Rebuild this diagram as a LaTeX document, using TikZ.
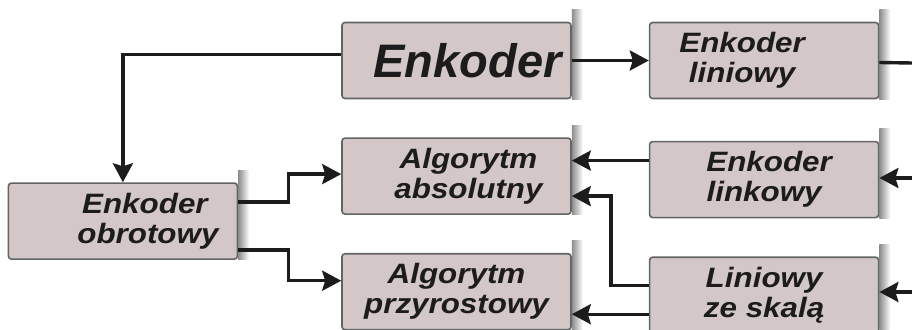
\documentclass[tikz,border=0pt]{standalone}
\usepackage{fontspec}
\setmainfont{Liberation Sans}
\newfontfamily\boxfont[FakeStretch=1.12]{Liberation Sans}
\usetikzlibrary{arrows.meta, positioning}

\definecolor{boxfill}{RGB}{212,199,199}
\definecolor{boxline}{RGB}{100,100,100}
\definecolor{ink}{RGB}{28,28,28}

\begin{document}
\begin{tikzpicture}[
    x=1pt, y=1pt,
    node distance=38pt and 77pt,
    unit/.style={rectangle, rounded corners=3pt, draw=boxline, line width=1.6pt, fill=boxfill,
        minimum width=229pt, minimum height=76pt, inner sep=0pt, align=center, text=ink,
        font=\boxfont\bfseries\itshape\fontsize{28}{30}\selectfont},
    title/.style={unit, font=\bfseries\itshape\fontsize{47}{50}\selectfont},
    backshade/.style={left color=black!45, right color=white, draw=none},
    arrow/.style={-{Stealth[length=19pt,width=20pt,inset=3pt]}, line width=3.4pt, draw=ink}
]
\useasboundingbox (0,0) rectangle (912,-329);

% Nodes
\node[title] (Enc_Main) at (456.5,-60.5) {\hspace*{22pt}Enkoder};
\node[unit, right=of Enc_Main] (Enc_Liniowy) {Enkoder\hspace*{44pt}\\ liniowy\hspace*{44pt}};
\node[unit, below=of Enc_Main] (Alg_Absolutny) {\hspace*{24pt}Algorytm\\ \hspace*{24pt}absolutny};
\node[unit, below=of Alg_Absolutny] (Alg_Przyrostowy) {Algorytm\\ przyrostowy};
\node[unit, right=of Alg_Absolutny, yshift=-3.5pt] (Enc_Linkowy) {\hspace*{10pt}Enkoder\\ linkowy};
\node[unit, below=of Enc_Linkowy] (Lin_Skala) {Liniowy\\ ze skalą};
\node[unit, left=103pt of Alg_Absolutny, yshift=-45pt] (Enc_Obrotowy) {\hspace*{44pt}Enkoder\\ \hspace*{50pt}obrotowy};

% free ends at the right border
\coordinate (Out_Top) at (912,-63);
\coordinate (In_Mid) at (912,-178);
\coordinate (In_Low) at (912,-292);

% Shadows
\foreach \n in {Enc_Main, Enc_Liniowy, Alg_Absolutny, Alg_Przyrostowy, Enc_Linkowy, Lin_Skala, Enc_Obrotowy}
    \shade[backshade] ([yshift=12pt]\n.north east) rectangle ([xshift=11pt]\n.south east);

% Edges
\draw[arrow] ([yshift=6pt]Enc_Main.west) -| (Enc_Obrotowy.north);
\draw[arrow] (Enc_Main) -- (Enc_Liniowy);
\draw[line width=3.4pt, draw=ink] ([yshift=-2pt]Enc_Liniowy.east) -- (Out_Top);
\draw[arrow] (In_Mid) -- (Enc_Linkowy.east |- In_Mid);
\draw[arrow] (In_Low) -- (Lin_Skala.east |- In_Low);

\draw[arrow] ([yshift=19pt]Enc_Linkowy.west) -- ([yshift=19pt]Enc_Linkowy.west -| Alg_Absolutny.east);
\draw[arrow] ([yshift=10pt]Lin_Skala.west) -- ++(-38,0) |- ([yshift=-20pt]Alg_Absolutny.east);
\draw[arrow] ([yshift=-19pt]Lin_Skala.west) -- ([yshift=-19pt]Lin_Skala.west -| Alg_Przyrostowy.east);

\draw[arrow] ([yshift=19pt]Enc_Obrotowy.east) -- ++(50,0) |- ([yshift=2pt]Alg_Absolutny.west);
\draw[arrow] ([yshift=-29pt]Enc_Obrotowy.east) -- ++(50,0) |- ([yshift=11pt]Alg_Przyrostowy.west);

\end{tikzpicture}
\end{document}
